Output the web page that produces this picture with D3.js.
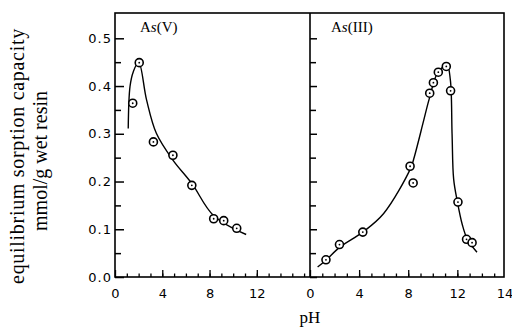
<!DOCTYPE html>
<html>
<head>
<meta charset="utf-8">
<script src="https://cdn.jsdelivr.net/npm/d3@7"></script>
<style>
  body { margin: 0; background: #fff; }
  .tick text { font-family: "DejaVu Sans", sans-serif; }
</style>
</head>
<body>
<div id="chart"></div>
<script>
// As(V) measured points and fitted curve (pH, mmol/g)
var asV_ph = [1.5, 2.05, 3.25, 4.9, 6.5, 8.35, 9.2, 10.3];
var asV_q  = [0.364, 0.449, 0.283, 0.255, 0.192, 0.122, 0.118, 0.102];
var asV_curve_ph = [1.12, 1.27, 1.55, 2.0, 2.67, 3.5, 4.9, 6.5, 8.33, 11.1];
var asV_curve_q  = [0.311, 0.399, 0.43, 0.45, 0.371, 0.301, 0.245, 0.196, 0.129, 0.089];

// As(III)
var asIII_ph = [1.3, 2.4, 4.3, 8.15, 8.4, 9.75, 10.05, 10.45, 11.1, 11.45, 12.05, 12.75, 13.2];
var asIII_q  = [0.036, 0.068, 0.094, 0.232, 0.197, 0.385, 0.407, 0.429, 0.441, 0.39, 0.157, 0.079, 0.072];
var asIII_curve_ph = [0.62, 1.3, 2.4, 4.3, 6.0, 8.2, 8.5, 9.27, 9.7, 10.4, 11.15, 11.43, 11.57, 11.7, 12.0, 12.4, 12.8, 13.6];
var asIII_curve_q  = [0.021, 0.035, 0.062, 0.094, 0.133, 0.228, 0.252, 0.329, 0.372, 0.428, 0.444, 0.413, 0.3, 0.205, 0.158, 0.11, 0.08, 0.052];

var yTicks = [0, 0.1, 0.2, 0.3, 0.4, 0.5];
var yMinor = [0.05, 0.15, 0.25, 0.35, 0.45];
var xTicks = [0, 4, 8, 12];

var width = 512, height = 329;
var svg = d3.select('#chart').append('svg')
    .attr('width', width)
    .attr('height', height);

var x0 = 115, xMid = 310, x1 = 504, yTop = 13, yBot = 277;

var y = d3.scaleLinear().domain([0, 0.553]).range([yBot, yTop]);
var xL = d3.scaleLinear().domain([0, 16.5]).range([x0, xMid]);
var xR = d3.scaleLinear().domain([0, 15.8]).range([xMid, x1]);

// frame
svg.append('rect')
    .attr('x', x0).attr('y', yTop)
    .attr('width', x1 - x0).attr('height', yBot - yTop)
    .attr('fill', 'none').attr('stroke', '#000').attr('stroke-width', 1.6);
svg.append('line')
    .attr('x1', xMid).attr('x2', xMid).attr('y1', yTop).attr('y2', yBot)
    .attr('stroke', '#000').attr('stroke-width', 1.6);

// y axis, ticks inside
function yAxisAt(xpos, labels) {
  var gm = svg.append('g').attr('transform', 'translate(' + xpos + ',0)')
      .call(d3.axisRight(y).tickValues(yMinor).tickSize(6).tickFormat(''));
  var g = svg.append('g').attr('transform', 'translate(' + xpos + ',0)')
      .call(d3.axisRight(y).tickValues(yTicks).tickSize(labels ? 9 : 7)
        .tickFormat(labels ? d3.format('.1f') : ''));
  [g, gm].forEach(function(a) {
    a.select('.domain').remove();
    a.selectAll('line').attr('stroke-width', 1.5);
  });
  if (labels) {
    g.selectAll('.tick text')
        .attr('x', -3).attr('text-anchor', 'end')
        .style('font-size', '13px').style('letter-spacing', '1px');
  }
}
yAxisAt(x0, true);
yAxisAt(xMid, false);

// x axes, ticks inside
function xAxis(scale, maxMinor) {
  var gm = svg.append('g').attr('transform', 'translate(0,' + yBot + ')')
      .call(d3.axisTop(scale).tickValues(d3.range(1, maxMinor)).tickSize(3.5).tickFormat(''));
  var g = svg.append('g').attr('transform', 'translate(0,' + yBot + ')')
      .call(d3.axisTop(scale).tickValues(xTicks).tickSize(7).tickFormat(d3.format('d')));
  [g, gm].forEach(function(a) {
    a.select('.domain').remove();
    a.selectAll('line').attr('stroke-width', 1.3);
  });
  g.selectAll('.tick text')
      .attr('y', 12).attr('dy', '0.71em')
      .style('font-size', '13px');
}
xAxis(xL, 17);
xAxis(xR, 16);
// "14" label sits at the right border
svg.append('text')
    .attr('x', x1 + 1).attr('y', yBot + 12).attr('dy', '0.71em')
    .attr('text-anchor', 'middle')
    .style('font-family', '"DejaVu Sans", sans-serif').style('font-size', '13px')
    .text('14');

// curves
var line = d3.line().curve(d3.curveCatmullRom.alpha(0.5));
svg.append('path')
    .attr('d', line(asV_curve_ph.map(function(p, i) { return [xL(p), y(asV_curve_q[i])]; })))
    .attr('fill', 'none').attr('stroke', '#000').attr('stroke-width', 1.4);
svg.append('path')
    .attr('d', line(asIII_curve_ph.map(function(p, i) { return [xR(p), y(asIII_curve_q[i])]; })))
    .attr('fill', 'none').attr('stroke', '#000').attr('stroke-width', 1.4);

// markers: open circle with centre dot
function markers(ph, q, xs) {
  var g = svg.append('g').selectAll('g').data(ph).join('g')
      .attr('transform', function(d, i) { return 'translate(' + xs(d) + ',' + y(q[i]) + ')'; });
  g.append('circle').attr('r', 4).attr('fill', '#fff').attr('stroke', '#000').attr('stroke-width', 1.6);
  g.append('circle').attr('r', 0.9).attr('fill', '#000');
}
markers(asV_ph, asV_q, xL);
markers(asIII_ph, asIII_q, xR);

// panel labels
function panelLabel(xpos, roman) {
  var t = svg.append('text').attr('x', xpos).attr('y', 32)
      .style('font-family', '"Liberation Serif", serif').style('font-size', '15px');
  t.append('tspan').text('A');
  t.append('tspan').style('font-style', 'italic').text('s');
  t.append('tspan').text('(' + roman + ')');
}
panelLabel(140, 'V');
panelLabel(331, 'III');

// axis titles
svg.append('text')
    .attr('transform', 'translate(24,156) rotate(-90)')
    .attr('text-anchor', 'middle')
    .style('font-family', '"Liberation Serif", serif').style('font-size', '20px')
    .style('letter-spacing', '0.7px')
    .text('equilibrium sorption capacity');
svg.append('text')
    .attr('transform', 'translate(47,161) rotate(-90)')
    .attr('text-anchor', 'middle')
    .style('font-family', '"Liberation Serif", serif').style('font-size', '20px')
    .text('mmol/g wet resin');
svg.append('text')
    .attr('x', 310).attr('y', 323)
    .attr('text-anchor', 'middle')
    .style('font-family', '"Liberation Serif", serif').style('font-size', '17px')
    .text('pH');
</script>
</body>
</html>
